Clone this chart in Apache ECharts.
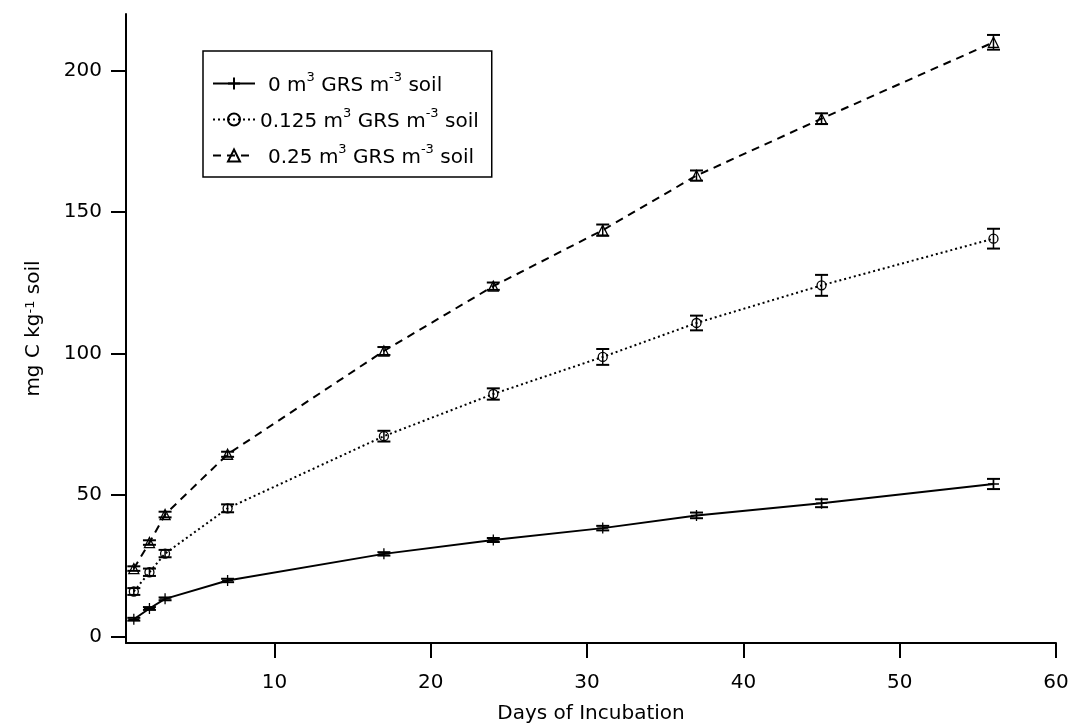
<!DOCTYPE html>
<html>
<head>
<meta charset="utf-8">
<title>Cumulative C mineralisation</title>
<script src="https://cdn.jsdelivr.net/npm/echarts@6/dist/echarts.min.js"></script>
<style>
  html, body { margin: 0; padding: 0; background: #fff; }
  #chart { width: 1073px; height: 725px; }
</style>
</head>
<body>
<div id="chart"></div>
<script>
// Sampling days
const days = [1, 2, 3, 7, 17, 24, 31, 37, 45, 56];

// Cumulative C (mg C kg-1 soil), means and standard errors per GRS rate
const rate0 = [6.1, 9.9, 13.3, 19.8, 29.2, 34.1, 38.3, 42.8, 47.1, 53.9];
const rate0Err = [0.5, 0.5, 0.5, 0.6, 0.6, 0.7, 0.8, 1.0, 1.4, 1.8];
const rate125 = [15.9, 22.7, 29.3, 45.3, 70.8, 85.7, 98.8, 110.8, 124.1, 140.6];
const rate125Err = [1.2, 1.3, 1.3, 1.4, 1.9, 2.0, 2.8, 2.6, 3.7, 3.5];
const rate25 = [24.0, 33.2, 43.1, 64.4, 100.9, 123.8, 143.6, 162.9, 183.0, 210.0];
const rate25Err = [0.8, 0.8, 1.0, 0.9, 1.4, 1.3, 2.0, 1.8, 1.9, 2.6];

// Application rates shown in the legend (m3 GRS m-3 soil)
const rateLabels = ['0', '0.125', '0.25'];

// Axis ticks
const xTicks = [10, 20, 30, 40, 50, 60];
const yTicks = [0, 50, 100, 150, 200];

const FONT = 'DejaVu Sans';

function pairs(vals) {
  return days.map((d, i) => [d, vals[i]]);
}
function bars(vals, errs) {
  return days.map((d, i) => [d, vals[i] - errs[i], vals[i] + errs[i]]);
}

function renderErrorBar(params, api) {
  const x = api.value(0);
  const lo = api.coord([x, api.value(1)]);
  const hi = api.coord([x, api.value(2)]);
  const w = 6.5;
  const st = { stroke: '#000', lineWidth: 2 };
  return {
    type: 'group',
    children: [
      { type: 'line', shape: { x1: lo[0], y1: lo[1], x2: hi[0], y2: hi[1] }, style: { stroke: '#000', lineWidth: 1.5 } },
      { type: 'line', shape: { x1: lo[0] - w, y1: lo[1], x2: lo[0] + w, y2: lo[1] }, style: st },
      { type: 'line', shape: { x1: hi[0] - w, y1: hi[1], x2: hi[0] + w, y2: hi[1] }, style: st }
    ]
  };
}

function errorSeries(vals, errs) {
  return {
    type: 'custom',
    renderItem: renderErrorBar,
    data: bars(vals, errs),
    encode: { x: 0, y: [1, 2] },
    z: 3,
    silent: true
  };
}

const crossSymbol = 'path://M0,5 L10,5 M5,0 L5,10';
const markerStyle = { color: 'rgba(0,0,0,0)', borderColor: '#000', borderWidth: 1.3 };

const chart = echarts.init(document.getElementById('chart'), null, { renderer: 'canvas' });

chart.setOption({
  animation: false,
  backgroundColor: '#fff',
  textStyle: { fontFamily: FONT, color: '#000' },
  grid: { left: 126, right: 17, top: 14, bottom: 82, containLabel: false, outerBoundsMode: 'none' },
  legend: {
    left: 203,
    top: 51,
    orient: 'vertical',
    data: rateLabels,
    itemWidth: 42,
    itemHeight: 15,
    itemGap: 11,
    padding: [20, 13, 9, 9],
    borderColor: '#000',
    borderWidth: 1.5,
    borderRadius: 0,
    selectedMode: false,
    textStyle: {
      fontFamily: FONT,
      fontSize: 20,
      color: '#000',
      rich: {
        t: { fontFamily: FONT, fontSize: 20, color: '#000', lineHeight: 25, verticalAlign: 'bottom' },
        sup: { fontFamily: FONT, fontSize: 13, color: '#000', verticalAlign: 'top', lineHeight: 12 },
        g: { width: 8 }
      }
    },
    formatter: function (name) {
      const lead = name === '0.125' ? '' : '{g|}';
      return lead + '{t|' + name + ' m}{sup|3}{t| GRS m}{sup|-3}{t| soil}';
    }
  },
  xAxis: {
    type: 'value',
    min: 0.5,
    max: 60,
    name: 'Days of Incubation',
    nameLocation: 'middle',
    nameGap: 61,
    nameTextStyle: { fontFamily: FONT, fontSize: 20, color: '#000' },
    axisLine: { onZero: false, lineStyle: { color: '#000', width: 2 } },
    axisTick: { show: true, length: 15, inside: false, customValues: xTicks, lineStyle: { color: '#000', width: 2 } },
    axisLabel: { customValues: xTicks, margin: 30, fontFamily: FONT, fontSize: 20, color: '#000' },
    splitLine: { show: false }
  },
  yAxis: {
    type: 'value',
    min: -2.3,
    max: 220,
    name: 'mg C kg{sup|-1} soil',
    nameLocation: 'middle',
    nameGap: 82,
    nameRotate: 90,
    nameTextStyle: {
      fontFamily: FONT,
      fontSize: 20,
      color: '#000',
      rich: {
        sup: { fontFamily: FONT, fontSize: 13, color: '#000', verticalAlign: 'top', lineHeight: 12 }
      }
    },
    axisLine: { show: true, onZero: false, lineStyle: { color: '#000', width: 2 } },
    axisTick: { show: true, length: 15, inside: false, customValues: yTicks, lineStyle: { color: '#000', width: 2 } },
    axisLabel: { customValues: yTicks, margin: 24, fontFamily: FONT, fontSize: 20, color: '#000' },
    splitLine: { show: false }
  },
  series: [
    errorSeries(rate0, rate0Err),
    errorSeries(rate125, rate125Err),
    errorSeries(rate25, rate25Err),
    {
      name: rateLabels[0],
      type: 'line',
      data: pairs(rate0),
      symbol: crossSymbol,
      symbolSize: 11,
      showAllSymbol: true,
      lineStyle: { color: '#000', width: 2, type: 'solid' },
      itemStyle: markerStyle,
      z: 4
    },
    {
      name: rateLabels[1],
      type: 'line',
      data: pairs(rate125),
      symbol: 'circle',
      symbolSize: 9,
      showAllSymbol: true,
      lineStyle: { color: '#000', width: 2, type: [2, 3] },
      itemStyle: markerStyle,
      z: 4
    },
    {
      name: rateLabels[2],
      type: 'line',
      data: pairs(rate25),
      symbol: 'triangle',
      symbolSize: 10,
      showAllSymbol: true,
      lineStyle: { color: '#000', width: 2, type: [8, 6] },
      itemStyle: markerStyle,
      z: 4
    }
  ]
});
</script>
</body>
</html>
